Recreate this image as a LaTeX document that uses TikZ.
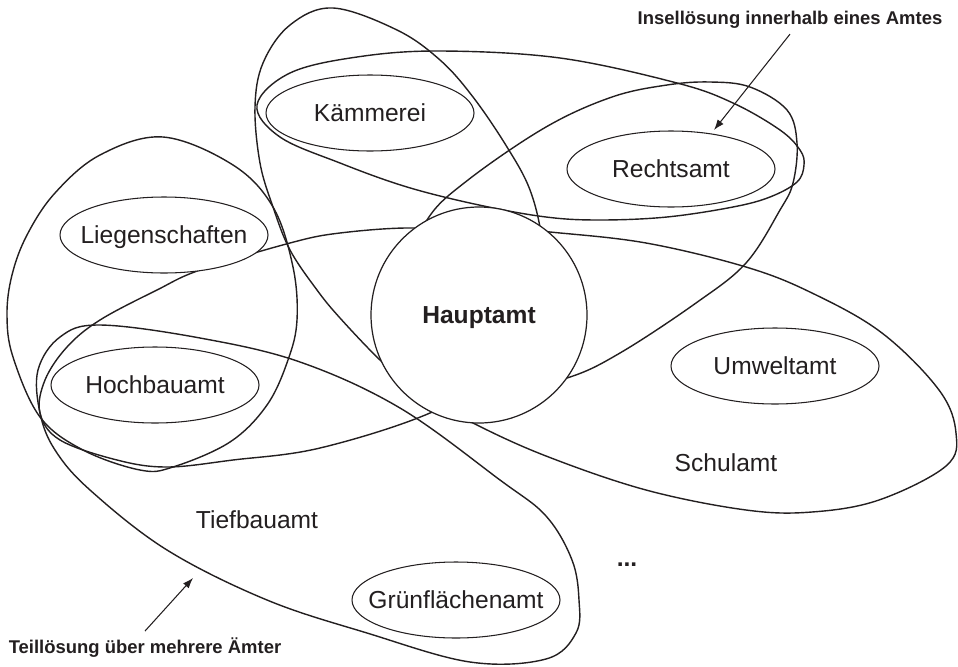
\documentclass[tikz,border=0pt]{standalone}
\usepackage{fontspec}
\setmainfont{Liberation Sans}
\usetikzlibrary{arrows.meta,shapes.geometric}
\definecolor{AmtInk}{HTML}{231F20}
\tikzset{
  amtgruppe/.style={draw=AmtInk,line width=0.8pt},
  amtstelle/.style={
    ellipse,
    draw=AmtInk,
    fill=white,
    line width=0.6pt,
    minimum width=41.6mm,
    minimum height=15.2mm,
    inner xsep=-10pt,
    inner ysep=0pt,
    text height=10pt,
    text depth=0pt,
    text=AmtInk,
    font=\fontsize{14}{16}\selectfont
  },
  amtzentrum/.style={
    amtstelle,
    circle,
    line width=0.7pt,
    minimum size=43.2mm,
    font=\fontsize{14}{16}\selectfont\bfseries
  },
  amtlabel/.style={anchor=base,text=AmtInk,font=\fontsize{14}{16}\selectfont},
  amthinweis/.style={anchor=base,text=AmtInk,font=\fontsize{10.5}{12}\selectfont\bfseries},
  amtpfeil/.style={-{Latex[length=2.1mm,width=1.5mm]},line width=0.6pt,draw=AmtInk}
}

\begin{document}
\begin{tikzpicture}[x=0.2mm,y=-0.2mm]
        \useasboundingbox (0,0) rectangle (958,666);
        % Verbuende
        \draw[amtgruppe] plot[smooth cycle,tension=0.6] coordinates {(333,8) (397,30) (440,60) (473,97) (507,147) (530,190) (542,240) (545,300) (520,360) (470,395) (410,385) (380,360) (340,318) (317,290) (290,250) (273,207) (260,163) (255,107) (263,63) (290,25)};
        \draw[amtgruppe] plot[smooth cycle,tension=0.6] coordinates {(257,105) (290,73) (357,57) (440,51) (560,58) (677,83) (733,103) (780,130) (800,150) (804,165) (797,182) (770,197) (733,207) (667,217) (600,220) (546,217) (479,205) (407,187) (340,163) (280,137)};
        \draw[amtgruppe] plot[smooth cycle,tension=0.6] coordinates {(163,137) (233,165) (273,207) (293,267) (297,320) (288,360) (267,405) (230,442) (173,467) (140,470) (83,450) (40,417) (13,357) (7,315) (12,275) (27,235) (55,193) (100,155)};
        \draw[amtgruppe] plot[smooth cycle,tension=0.6] coordinates {(427,220) (468,180) (546,127) (612,97) (667,85) (710,82) (750,87) (787,110) (797,143) (793,183) (780,210) (746,263) (696,303) (620,353) (567,378) (490,395) (420,350) (405,280)};
        \draw[amtgruppe] plot[smooth cycle,tension=0.6] coordinates {(413,228) (340,233) (290,243) (200,270) (157,290) (100,320) (67,347) (45,380) (40,413) (60,440) (117,460) (167,467) (233,460) (320,448) (430,413) (500,370) (520,300) (470,235)};
        \draw[amtgruppe] plot[smooth cycle,tension=0.6] coordinates {(300,362) (200,338) (100,325) (60,337) (38,370) (40,413) (55,450) (90,490) (167,550) (267,600) (367,633) (470,662) (546,659) (576,633) (579,600) (572,560) (546,516) (500,480) (400,408)};
        \draw[amtgruppe] plot[smooth cycle,tension=0.6] coordinates {(550,232) (646,243) (746,267) (812,293) (882,333) (939,390) (956,433) (946,466) (879,500) (812,512) (746,510) (646,490) (546,456) (473,423) (425,395) (395,330) (420,260) (480,226)};

        \node[amtzentrum] (haupt) at (479,315) {Hauptamt};
        \node[amtstelle] (kaemmerei) at (370,113) {Kämmerei};
        \node[amtstelle] (recht) at (671,169) {Rechtsamt};
        \node[amtstelle] (liegen) at (164,235) {Liegenschaften};
        \node[amtstelle] (hochbau) at (155,385) {Hochbauamt};
        \node[amtstelle] (umwelt) at (775,366) {Umweltamt};
        \node[amtstelle] (gruen) at (456,600) {Grünflächenamt};
        \node[amtlabel] (schul) at (726,471) {Schulamt};
        \node[amtlabel] (tiefbau) at (257,528) {Tiefbauamt};
        \node[amtlabel] (weitere) at (627,566) {\textbf{...}};

        \node[amthinweis] (insel) at (790,24) {Insellösung innerhalb eines Amtes};
        \node[amthinweis] (teil) at (145,653) {Teillösung über mehrere Ämter};
        \coordinate (inselziel) at (714,130);
        \coordinate (teilziel) at (193,578);
        \draw[amtpfeil] (insel.south) -- (inselziel);
        \draw[amtpfeil] (teil.north) -- (teilziel);
      \end{tikzpicture}
\end{document}
